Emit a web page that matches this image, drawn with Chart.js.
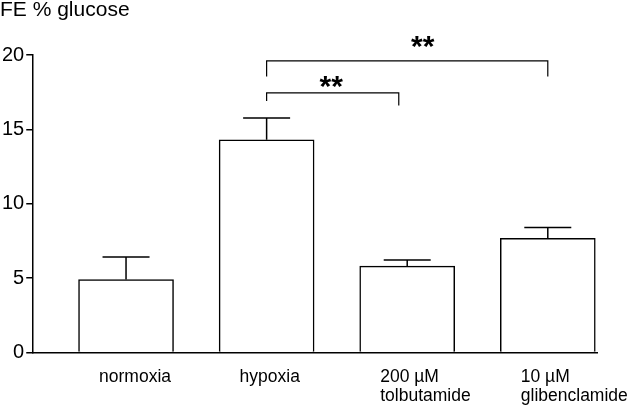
<!DOCTYPE html>
<html>
<head>
<meta charset="utf-8">
<script src="https://cdn.jsdelivr.net/npm/chart.js"></script>
<style>
  html, body { margin: 0; padding: 0; background: #fff; }
  #wrap { width: 640px; height: 407px; }
</style>
</head>
<body>
<div id="wrap"><canvas id="chart"></canvas></div>
<script>
// values
const categories = ['normoxia', 'hypoxia', '200 µM tolbutamide', '10 µM glibenclamide'];
const tickLabels = [['normoxia'], ['hypoxia'], ['200 µM', 'tolbutamide'], ['10 µM', 'glibenclamide']];
const means = [4.91, 14.30, 5.81, 7.68];
const errors = [1.51, 1.46, 0.41, 0.72];
const yTicks = [0, 5, 10, 15, 20];

// significance brackets (x = category index, y = FE % glucose)
const bracketLong = [{ x: 1, y: 18.55 }, { x: 1, y: 19.6 }, { x: 3, y: 19.6 }, { x: 3, y: 18.55 }];
const bracketShort = [{ x: 1, y: 16.9 }, { x: 1, y: 17.45 }, { x: 1.94, y: 17.45 }, { x: 1.94, y: 16.6 }];
const starText = ['**', '**'];
const starX = [2.11, 1.46];
const starY = [20.9, 18.2];

const FONT = 'Liberation Sans, Arial, Helvetica, sans-serif';

// upward-only error bars with caps
const errorBars = {
  id: 'errorBars',
  afterDatasetsDraw(chart) {
    const { ctx, scales: { x, y } } = chart;
    ctx.save();
    ctx.strokeStyle = '#000';
    ctx.lineWidth = 1.5;
    for (let i = 0; i < means.length; i++) {
      const px = x.getPixelForValue(i);
      const yTop = y.getPixelForValue(means[i]);
      const yCap = y.getPixelForValue(means[i] + errors[i]);
      ctx.beginPath();
      ctx.moveTo(px, yTop);
      ctx.lineTo(px, yCap);
      ctx.moveTo(px - 23.5, yCap);
      ctx.lineTo(px + 23.5, yCap);
      ctx.stroke();
    }
    ctx.restore();
  }
};

// the ** marks above the brackets
const stars = {
  id: 'stars',
  afterDraw(chart) {
    const { ctx, scales: { x, y } } = chart;
    const size = 30;
    ctx.save();
    ctx.fillStyle = '#000';
    ctx.font = 'bold ' + size + 'px ' + FONT;
    ctx.textAlign = 'center';
    ctx.textBaseline = 'alphabetic';
    for (let i = 0; i < starText.length; i++) {
      // asterisk glyph sits about half an em above the baseline
      ctx.fillText(starText[i], x.getPixelForValue(starX[i]), y.getPixelForValue(starY[i]) + 0.47 * size);
    }
    ctx.restore();
  }
};

const bracketStyle = {
  type: 'line',
  borderColor: '#000',
  borderWidth: 1.2,
  pointRadius: 0,
  fill: false,
  tension: 0,
  clip: false
};

new Chart(document.getElementById('chart'), {
  type: 'bar',
  data: {
    datasets: [
      {
        label: 'FE % glucose',
        data: means.map((v, i) => ({ x: i, y: v })),
        backgroundColor: '#fff',
        borderColor: '#000',
        borderWidth: 1.5,
        barThickness: 95
      },
      Object.assign({ data: bracketLong }, bracketStyle),
      Object.assign({ data: bracketShort }, bracketStyle)
    ]
  },
  options: {
    responsive: true,
    maintainAspectRatio: false,
    animation: false,
    layout: { padding: { top: 0, right: 43, bottom: 1, left: 0 } },
    plugins: {
      legend: { display: false },
      tooltip: { enabled: false },
      title: {
        display: true,
        text: 'FE % glucose',
        align: 'start',
        color: '#000',
        font: { family: FONT, size: 21, weight: 'normal', lineHeight: 1 },
        padding: { top: 0, bottom: 34 }
      }
    },
    scales: {
      x: {
        type: 'linear',
        offset: false,
        bounds: 'data',
        min: -0.66,
        max: 3.35,
        afterBuildTicks(scale) {
          scale.ticks = categories.map((c, i) => ({ value: i }));
        },
        afterFit(scale) {
          // labels are shifted left, so no extra room is needed at the ends
          scale.paddingLeft = 0;
          scale.paddingRight = 0;
          // chart.js reserves the tick padding twice; only keep it once
          scale.height -= scale.options.ticks.padding;
        },
        grid: { display: true, offset: false, drawOnChartArea: false, drawTicks: false },
        border: { display: true, color: '#000', width: 1.5 },
        ticks: {
          color: '#000',
          font: { family: FONT, size: 17.5, lineHeight: 1.1 },
          padding: 15,
          align: 'start',
          labelOffset: -27,
          maxRotation: 0,
          autoSkip: false,
          callback: (value, index) => tickLabels[index]
        }
      },
      y: {
        min: 0,
        max: 20,
        afterBuildTicks(scale) {
          scale.ticks = yTicks.map(v => ({ value: v }));
        },
        grid: { display: true, drawOnChartArea: false, drawTicks: true, tickLength: 7, color: '#000', lineWidth: 1.5 },
        border: { display: true, color: '#000', width: 1.5 },
        ticks: {
          color: '#000',
          font: { family: FONT, size: 20 },
          padding: 2
        }
      }
    }
  },
  plugins: [errorBars, stars]
});
</script>
</body>
</html>
